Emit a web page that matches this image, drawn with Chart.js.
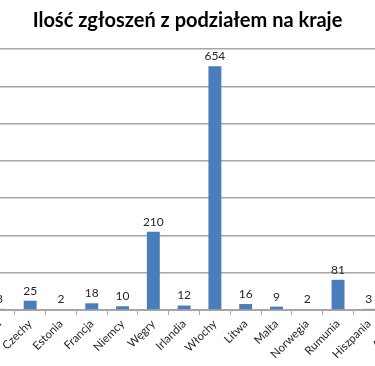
<!DOCTYPE html>
<html>
<head>
<meta charset="utf-8">
<script src="https://cdn.jsdelivr.net/npm/chart.js@4/dist/chart.umd.min.js"></script>
<style>
  html, body { margin: 0; padding: 0; background: #fff; overflow: hidden; }
  #wrap { position: absolute; left: -40px; top: 0; width: 461px; height: 366px; }
</style>
</head>
<body>
<div id="wrap"><canvas id="krajeChart"></canvas></div>
<script>
// kraje (the first and last are cut off at the edges of the picture)
const countries = ['Bułgaria', 'Czechy', 'Estonia', 'Francja', 'Niemcy', 'Węgry', 'Irlandia',
  'Włochy', 'Litwa', 'Malta', 'Norwegia', 'Rumunia', 'Hiszpania', 'Austria'];
const reports = [3, 25, 2, 18, 10, 210, 12, 654, 16, 9, 2, 81, 3, 5];
const yTicks = [0, 100, 200, 300, 400, 500, 600, 700];

const gridGrey = '#a6a6a6';

// value labels above each bar
const valueLabels = {
  id: 'valueLabels',
  afterDatasetsDraw(chart) {
    const ctx = chart.ctx;
    const meta = chart.getDatasetMeta(0);
    ctx.save();
    ctx.font = '12px Lato';
    ctx.fillStyle = '#262626';
    ctx.textAlign = 'center';
    ctx.textBaseline = 'bottom';
    meta.data.forEach((bar, i) => {
      ctx.fillText(reports[i], bar.x, bar.y - 4);
    });
    ctx.restore();
  }
};

const ctx = document.getElementById('krajeChart').getContext('2d');
new Chart(ctx, {
  type: 'bar',
  data: {
    labels: countries,
    datasets: [{
      label: 'Ilość zgłoszeń',
      data: reports,
      backgroundColor: '#4a7ebb',
      borderWidth: 0,
      barPercentage: 0.42,
      categoryPercentage: 1
    }]
  },
  options: {
    responsive: true,
    maintainAspectRatio: false,
    animation: false,
    layout: { padding: { left: 0, right: 6, top: 0, bottom: 0 } },
    plugins: {
      legend: { display: false },
      tooltip: { enabled: false },
      title: {
        display: true,
        text: 'Ilość zgłoszeń z podziałem na kraje',
        color: '#000',
        font: { family: 'Lato', size: 20, weight: 'bold' },
        padding: { top: 9, bottom: 16 }
      }
    },
    scales: {
      x: {
        grid: {
          offset: true,
          drawOnChartArea: false,
          drawTicks: true,
          tickLength: 5,
          color: gridGrey
        },
        border: { display: true, color: gridGrey, width: 1 },
        ticks: {
          autoSkip: false,
          minRotation: 45,
          maxRotation: 45,
          padding: 2,
          color: '#262626',
          font: { family: 'Lato', size: 11.5 }
        },
        afterFit(scale) {
          scale.height = 56;
          scale.paddingLeft = 0;
          scale.paddingRight = 0;
        }
      },
      y: {
        min: 0,
        max: 700,
        afterBuildTicks(scale) {
          scale.ticks = yTicks.map(v => ({ value: v }));
        },
        grid: { color: gridGrey, lineWidth: 1.5, drawTicks: false },
        border: { display: false },
        ticks: { display: false },
        afterFit(scale) { scale.width = 24; }
      }
    }
  },
  plugins: [valueLabels]
});
</script>
</body>
</html>
